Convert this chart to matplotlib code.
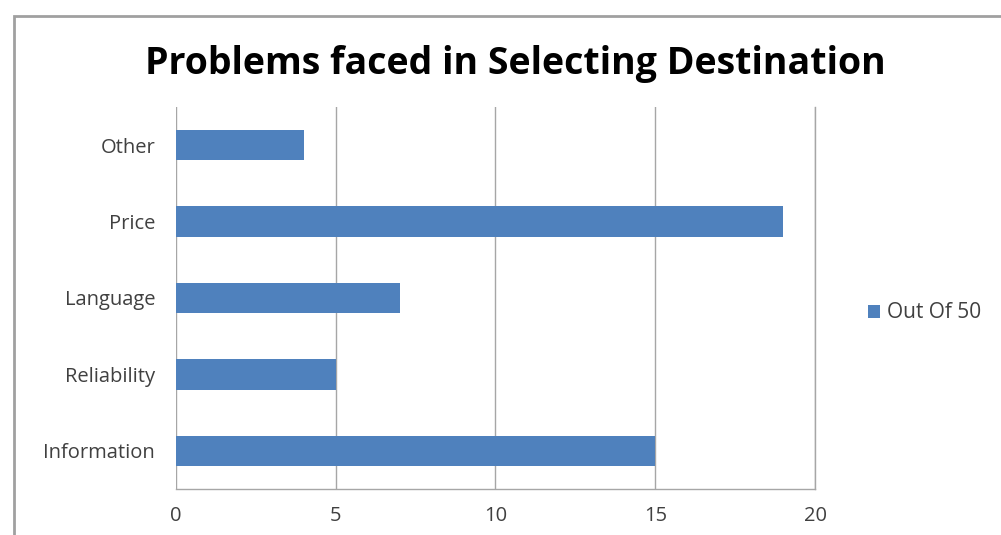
import matplotlib.pyplot as plt
from matplotlib.patches import Rectangle

# data
categories = ['Information', 'Reliability', 'Language', 'Price', 'Other']
values = [15, 5, 7, 19, 4]
series_name = 'Out Of 50'
x_ticks = [0, 5, 10, 15, 20]

bar_color = '#4f81bd'
text_color = '#404040'
grid_color = '#a6a6a6'

plt.rcParams['font.family'] = ['Open Sans', 'DejaVu Sans']

fig = plt.figure(figsize=(10.01, 5.35), dpi=100)
ax = fig.add_axes([0.1758, 0.086, 0.6384, 0.714])

# outer chart border (cropped at right and bottom)
fig.patches.append(Rectangle((14 / 1001, -0.1), 1.2, (535 - 16) / 535 + 0.1,
                             transform=fig.transFigure, fill=False,
                             edgecolor='#a0a0a0', linewidth=2.0))

ax.barh(range(len(categories)), values, height=0.4, color=bar_color,
        label=series_name, zorder=3)

ax.set_xlim(0, 20)
ax.set_ylim(-0.5, len(categories) - 0.5)
ax.set_xticks(x_ticks)
ax.set_yticks(range(len(categories)))
ax.set_yticklabels(categories)
ax.tick_params(axis='both', length=0, colors=text_color, labelsize=14.5)
ax.tick_params(axis='x', pad=12)
ax.tick_params(axis='y', pad=15)

ax.grid(axis='x', color=grid_color, linewidth=1, zorder=0)
for side in ['left', 'top']:
    ax.spines[side].set_visible(False)
for side in ['right', 'bottom']:
    ax.spines[side].set_color(grid_color)
    ax.spines[side].set_linewidth(1)

fig.text(0.515, 0.88, 'Problems faced in Selecting Destination',
         ha='center', va='center', fontsize=27, fontweight='bold', color='black')

leg = fig.legend(loc='center left', bbox_to_anchor=(0.848, 0.415), frameon=False,
                 handlelength=0.6, handleheight=0.6, handletextpad=0.35,
                 fontsize=15, labelcolor=text_color)

fig.savefig('out.png', dpi=100)
